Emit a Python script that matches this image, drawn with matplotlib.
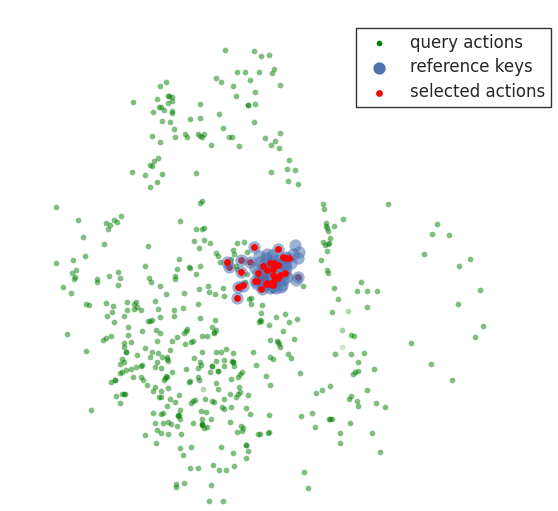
import matplotlib
matplotlib.use("Agg")
import matplotlib.pyplot as plt

query_x = [225,253.7,260.7,269,274.3,272,236.7,245,259,216,220.7,233,250,280,255.3,236.3,247.7,247.7,254.7,254,219.3,222.7,199.7,200.3,190,165.7,159.7,
132.7,157,167.7,168.7,172.3,171.7,167.7,158.7,161.3,164.3,152.7,172.3,172.3,162,170.3,174,152,160,174.7,184.7,187,198,200.3,202.3,204.3,210.7,229.3,231.7,239.3,280.3,265,275,271,278.7,288.7,287.3,294.7,270.7,287.7,298.3,158.3,154.3,150.3,151.7,132.3,144.7,161.7,156.7,150,196,
201.7,199.7,56,78,120.7,114.3,117,106,110,108,179.7,195.7,202.3,203.7,82.7,104.3,148,194.3,203.7,210,199,216.3,217.7,85.3,73.3,56,179.3,219.7,145.3,177.3,189,189.7,200.3,76.3,72.3,118,196.3,74.7,74.3,108.7,120,149.3,151,175.3,174.7,97,97,118,63.3,71.3,160,166.3,184.3,207.7,199,209,215,86,89.3,106,112.7,127,135.7,133.7,155,198.3,137,134.3,127.3,141.3,158.3,112.3,182.7,174,107.3,123.7,159.7,173.7,200.3,215.3,
148.3,150,151.7,114,128,260,261,259.3,276,261,262,269.3,211.7,215.7,213.7,213.7,187,185.7,184.3,155.7,160.3,142.3,128.3,67,111,105.7,103,177.3,172,201.7,207,156.7,131.3,124.3,123.7,185.3,191,193.3,270,276.7,277.7,279.3,279.7,85.7,126,125.7,145,169.7,202.3,225.7,216,221.3,232.7,253.3,151.7,157.7,136.7,150,161.7,167.3,167.3,168,193.7,269.7,273.3,121.7,124.3,120.3,157,200,201.3,216,223.7,232,232.7,232.7,233.7,255.7,141.7,140.7,136.3,131.3,125.7,122.3,120.3,154.7,161.3,186.3,198,212,212,224.3,218,218,209.7,242.3,240.3,238,172,265.7,231.3,166.3,165,167,163.7,140.7,142.7,133,115.3,115.3,110.7,197.7,199,190,188.7,216.3,147,154.7,167.7,238.7,270.3,217.7,153,161.3,240.3,237.7,236.3,230,247.7,115.7,122.3,124,125,159,160.7,179.3,170.3,175,204.7,224.3,194.7,193,191,211.7,213.7,120.3,167.3,222.3,223.7,230.7,246,90.7,180.3,201,206,153.3,161,163,177.7,179.3,178.3,250.3,269.3,180,202,211,
301.3,312,315.3,155,162.7,167.7,171.3,177,192.7,201.7,201.7,202.3,204,206.7,230.3,240.7,242.7,236.7,242.3,258.3,260.3,268.3,269.3,145.3,157.3,160.7,167.7,181.3,155.7,180.3,191.3,183,221.3,245.7,245.7,248,232.7,245.7,213.3,234,189.7,198.3,219.3,225.7,304,176.3,175.7,184,210.7,308,208.7,223,
323.3,324.3,388.3,342.7,326.3,325.7,334.3,327.3,328,330,323.3,329.3,328.3,325.3,326.7,321.3,327.3,328,436.7,432.3,449,423.7,470,458.7,361.3,302.7,334,357,367.3,377.3,480.3,338,367.3,458,332.3,285,297.3,
289,283,350.7,354,483,475.3,293.7,411.3,288.3,291.3,334.7,351.3,363.7,358.3,430.7,374,357.7,355.3,353.3,299.7,452,330.3,321.7,316,366.7,351.3,349.3,357.3,358,376.3,384.7,329.3,331.7,330.3,349.7,339.7,371.7,339.7,380,
237,244.3,232.7,234.3,247.3,230.7,236,236.7,247.3,224.3,223,245,251,249.3,251.3,271.7]
query_y = [50,51.3,55.7,55,68.7,73.3,71.7,72.3,72,77.7,82.3,86,80.3,85,92,95.7,105,105,104.3,122,114.3,128,103.7,118.3,119,82.3,85.7,
101.7,99,95.7,96.3,96.7,101,102.7,107,107,110.3,112,111.3,113.3,121,122.3,129,135.7,141.7,136.7,134.3,136.7,133.7,135.7,136.7,134.3,145,136.7,137,145.7,133.3,138.3,141.3,145.3,148.3,159.7,169.3,170,172.3,180.7,184.3,158.3,161,165.3,166.3,171.7,175.3,173.7,182.3,186.7,173.3,
200.7,202.7,207,220.3,215.7,220,222.3,222.7,225.3,229.3,221.3,229,229,227.7,237,243.7,245.7,241,240.3,242.7,248.3,252.7,255.7,256,260,262.7,258.7,262,266.3,268.7,267,267.7,266.3,270,273,271.7,274,277,279.3,275.7,277.7,277.7,282,276,279,279.3,281.7,285,287.3,292.7,286.3,293.7,292.7,285.7,289.3,292.3,294.3,304,304.7,303,305.7,302,301.7,304,300.7,303.7,307.3,309.3,310.3,310.3,308.7,311.7,307.7,310,315.7,315.7,317.3,316,317.7,320,
321,321.3,319.7,322,326.7,320,320.7,322,317.3,313.3,305.3,325,327.3,330,332,332.7,329,331,333.3,330,332.7,331.3,334.7,334,336.3,338.3,340.3,337,340.7,336.3,336,341,341.7,343,346.7,344.3,341.7,341,340,341.3,342.3,344.3,347,351.3,351.7,351.7,348,350,352,349,352.3,352.3,352.7,352,352.3,353.3,354.7,357,356.7,357,359,360.7,357.7,356.7,358.7,358.7,362.3,364,362,361.7,364.7,360.7,360,361,361.7,361.7,365.7,364.7,365.3,366.3,366.7,368.7,370.3,372.3,372.7,366.7,367.7,368.7,368.3,366,366,366.3,371.3,371.3,372,372.3,374.3,377,372.3,376.3,379.3,375.7,377.7,377.3,379.7,377.3,379.7,377,379.7,379.7,381.7,377.3,380.3,380.7,382.3,383,385.3,386.7,387.7,387,385.3,388.7,391.3,390.7,392,394,397.3,394.3,395.3,395.7,394,394,394,397,397.3,395.3,398.7,402.3,399.3,399,399.7,400.7,403.3,400.7,401.7,403.3,405.7,407.3,408.7,407,408,410,410.3,410.7,412,412.7,414,412.7,415.3,414.7,416.3,413.7,414.7,418.7,419.3,419,
415.7,412.7,426.7,423,423,421.7,424.3,426,423.3,424.3,424.3,425,427.7,426.7,422.3,425.7,427.7,431.7,431.3,433.7,433.7,433,431.7,435,430.3,433,434.3,434,443.3,448.3,447.3,454.7,447.3,445,445,450.7,453.3,458.3,465,466,468,468,470.3,470.3,472,483.7,487.3,483,485,488,501.3,501.3,
204,209,204,218.7,223.3,226,226.3,228.3,231,238,242,243,243.7,245.3,251.3,259.7,270.3,273,224.3,234,235.3,254,258.7,266.3,282.3,285.7,287.7,290.7,290.7,291,289.7,298.7,307.3,304,312,314.3,319,
322.3,331.3,334.7,336.3,326.3,337.3,338.7,342.7,354,357.7,353.7,354,353,361.7,364,369,371,372.3,374,373,380,385.7,389.7,393.3,389.7,396,399,401.3,406,403,407.3,419,419,419,423.3,432.7,433,443.3,451.7,
243,241.7,250,253.7,252.3,259.3,266,269,274.3,296.3,288,282.3,298.3,299.3,304,290]
faint_x = [348.3,202.7]
faint_y = [311,389]
mid_x = [342.3]
mid_y = [329.7]
pale_x = [342.3]
pale_y = [346.7]

key_x = [254.3,278,295.3,299.3,297.7,292.7,258.7,266.7,241,250.3,229.3,226.7,273.3,285,288.3,281.7,298.3,296,241,238.3,243.3,237.3,261.7,255,258.3,263.3,270,278.3,273.3,266.7,285,276.7,281.7,273.3,266.7,260,278.3,273.3,286.7,283.3,268.3,263.3,
281,276,270,263,257,286,279,272,266,260,255,285,291]
key_y = [247.3,249,244.7,252,258.3,254,256,254,260,262,266.7,261.7,260,256.7,258.3,263.3,276.7,280,272.3,286.7,286,297.7,289.3,281,273.3,266,263.3,265,270,270,272.7,275,285,286.7,284,278.3,280,280,276.7,280,276.7,275,
287,288,288,286,284,268,260,255,258,262,268,265,263]

under_x = [241,250.3,229.3,298.3,265,260]
under_y = [260,262,266.7,276.7,276.7,278.3]
sel_x = [254.3,278,283.3,286,288.7,226.7,241.3,237.7,238.7,243.3,237.3,261.3,262.7,270,274,278.3,266.7,273.3,257.7,285,273.3,280,275,278.3,255,256.7,273.3,270,266,267.3,273.3]
sel_y = [247.3,249,256.7,258.3,258,261.7,272.3,287.3,286.7,285.3,297.7,289.3,266,263.3,263.3,265,270,269.3,272.7,272.7,275,275,278.3,278.3,281,281,281.7,284,284,282.7,285]

labels = ["query actions", "reference keys", "selected actions"]

fig = plt.figure(figsize=(5.58, 5.11), dpi=100)
ax = fig.add_axes([0, 0, 1, 1])
ax.set_xlim(0, 558)
ax.set_ylim(511, 0)
ax.axis("off")

ms = 17
ax.scatter(faint_x, faint_y, s=ms, c="g", alpha=0.3, linewidths=0, zorder=2)
ax.scatter(mid_x, mid_y, s=ms, c="g", alpha=0.35, linewidths=0, zorder=2)
ax.scatter(pale_x, pale_y, s=ms, c="g", alpha=0.2, linewidths=0, zorder=2)
ax.scatter(query_x, query_y, s=ms, c="g", alpha=0.5, linewidths=0, zorder=2, label=labels[0])
ax.scatter(under_x, under_y, s=24, c="red", linewidths=0, zorder=3)
ax.scatter(key_x, key_y, s=78, c="#4C72B0", alpha=0.55, linewidths=0, zorder=4, label=labels[1])
ax.scatter(sel_x, sel_y, s=24, c="red", linewidths=0, zorder=5, label=labels[2])

leg = ax.legend(loc="upper right", bbox_to_anchor=(551 / 558, 1 - 28 / 511), borderaxespad=0,
                bbox_transform=fig.transFigure, fontsize=12, fancybox=False, framealpha=1,
                edgecolor="#333333", labelspacing=0.41, handletextpad=0.75, borderpad=0.33,
                handlelength=2.2)
leg.get_frame().set_linewidth(1.0)
for t in leg.get_texts():
    t.set_color("#262626")
for h in leg.legend_handles:
    h.set_alpha(1)

fig.savefig("out.png", dpi=100)
